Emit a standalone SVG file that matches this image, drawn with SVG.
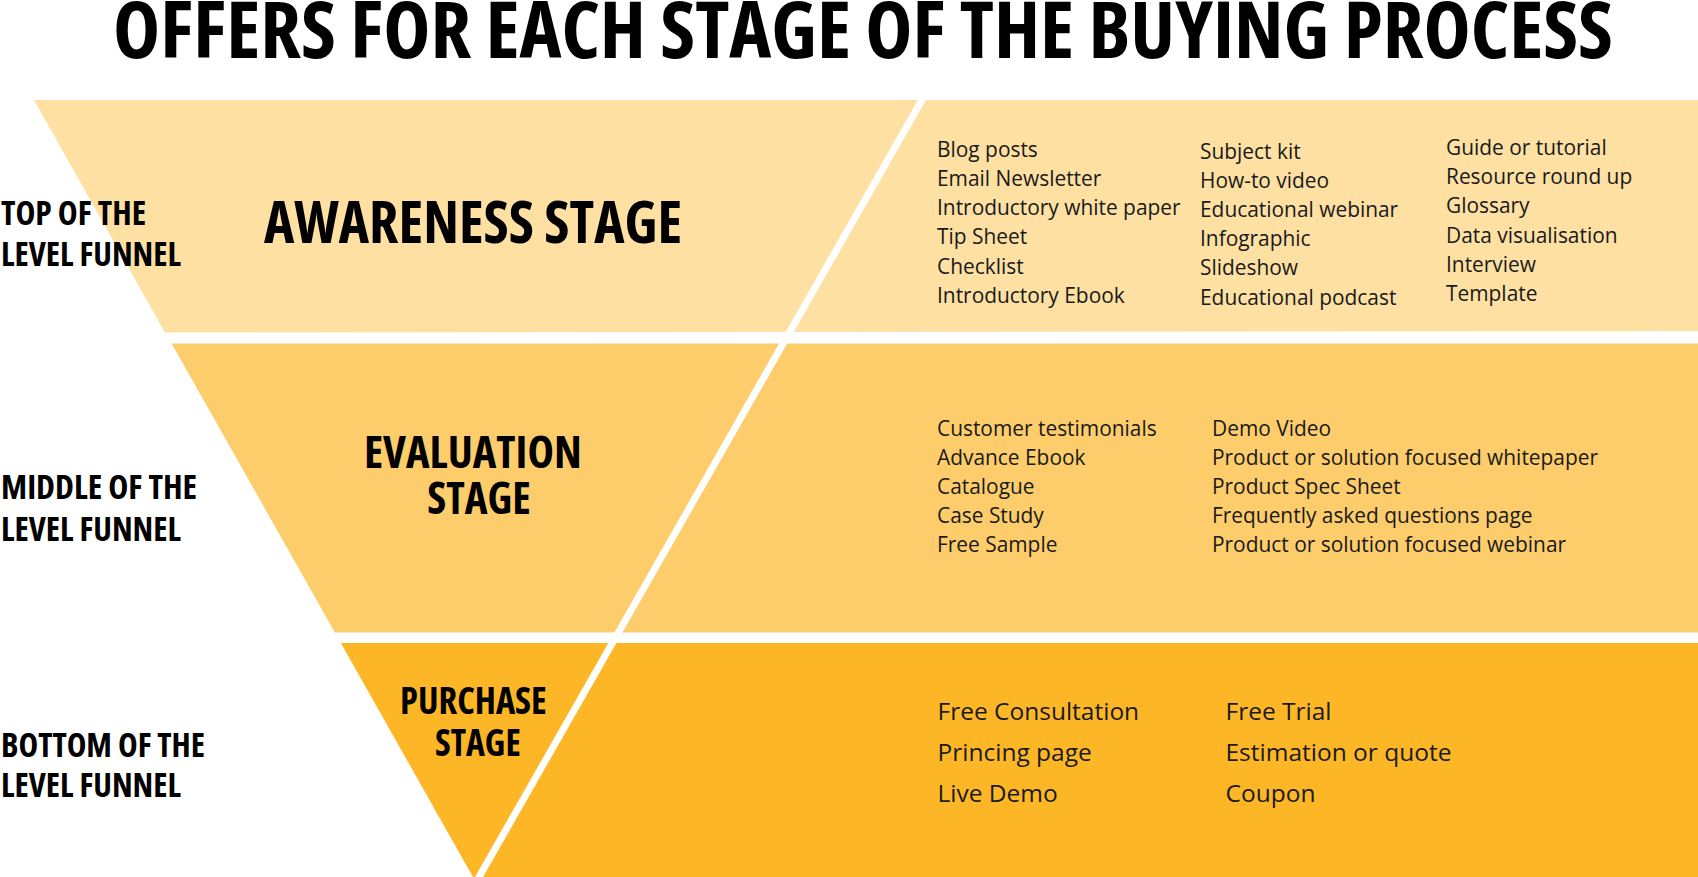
<svg xmlns="http://www.w3.org/2000/svg" width="1698" height="877" viewBox="0 0 1698 877">
<style>
.hd{font-family:"Open Sans","Liberation Sans",sans-serif;font-weight:700;font-stretch:condensed;fill:#000}
.it{font-family:"Open Sans","Liberation Sans",sans-serif;font-weight:400;font-size:20.9px;fill:#1a1a1a}
.itl{font-family:"Open Sans","Liberation Sans",sans-serif;font-weight:400;font-size:24.5px;fill:#1a1a1a}
.lab{font-size:33px}
</style>
<rect width="1698" height="877" fill="#ffffff"/>
<text class="hd" x="113" y="58" font-size="78" textLength="1500" lengthAdjust="spacingAndGlyphs">OFFERS FOR EACH STAGE OF THE BUYING PROCESS</text>

<g id="awareness">
<polygon points="34,100 1698,100 1698,331 165,332.5" fill="#FEE0A3"/>
<text class="hd" x="264" y="243.3" font-size="58.4" textLength="418" lengthAdjust="spacingAndGlyphs">AWARENESS STAGE</text>
<g class="it">
<text x="937" y="156.7">Blog posts</text>
<text x="937" y="185.9">Email Newsletter</text>
<text x="937" y="215.1">Introductory white paper</text>
<text x="937" y="244.3">Tip Sheet</text>
<text x="937" y="273.5">Checklist</text>
<text x="937" y="302.7">Introductory Ebook</text>
<text x="1200" y="159">Subject kit</text>
<text x="1200" y="188.1">How-to video</text>
<text x="1200" y="217.2">Educational webinar</text>
<text x="1200" y="246.3">Infographic</text>
<text x="1200" y="275.4">Slideshow</text>
<text x="1200" y="304.5">Educational podcast</text>
<text x="1446" y="154.6">Guide or tutorial</text>
<text x="1446" y="183.9">Resource round up</text>
<text x="1446" y="213.2">Glossary</text>
<text x="1446" y="242.5">Data visualisation</text>
<text x="1446" y="271.8">Interview</text>
<text x="1446" y="301.1">Template</text>
</g>
</g>

<g id="evaluation">
<polygon points="171.6,343.5 1698,343.5 1698,632.5 334.9,632.5" fill="#FECD6B"/>
<text class="hd" x="364" y="467.5" font-size="44.4" textLength="217.7" lengthAdjust="spacingAndGlyphs">EVALUATION</text>
<text class="hd" x="427.3" y="514" font-size="44.4" textLength="103.4" lengthAdjust="spacingAndGlyphs">STAGE</text>
<g class="it">
<text x="937" y="435.5">Customer testimonials</text>
<text x="937" y="464.7">Advance Ebook</text>
<text x="937" y="493.9">Catalogue</text>
<text x="937" y="523.1">Case Study</text>
<text x="937" y="552.3">Free Sample</text>
<text x="1212" y="435.5">Demo Video</text>
<text x="1212" y="464.7">Product or solution focused whitepaper</text>
<text x="1212" y="493.9">Product Spec Sheet</text>
<text x="1212" y="523.1">Frequently asked questions page</text>
<text x="1212" y="552.3">Product or solution focused webinar</text>
</g>
</g>

<g id="purchase">
<polygon points="340.8,643 1698,643 1698,877 473,877" fill="#FDB726"/>
<text class="hd" x="400" y="714" font-size="37.4" textLength="146.7" lengthAdjust="spacingAndGlyphs">PURCHASE</text>
<text class="hd" x="435" y="755.5" font-size="37.4" textLength="85.7" lengthAdjust="spacingAndGlyphs">STAGE</text>
<g class="itl">
<text x="937.5" y="720">Free Consultation</text>
<text x="937.5" y="761.4">Princing page</text>
<text x="937.5" y="802.4">Live Demo</text>
<text x="1225.5" y="720">Free Trial</text>
<text x="1225.5" y="761.4">Estimation or quote</text>
<text x="1225.5" y="802.4">Coupon</text>
</g>
</g>

<g id="connectors">
<line x1="923.7" y1="97" x2="477.3" y2="880" stroke="#ffffff" stroke-width="7"/>
</g>

<g id="level-labels">
<text class="hd lab" x="1" y="224.5" textLength="145" lengthAdjust="spacingAndGlyphs">TOP OF THE</text>
<text class="hd lab" x="1" y="265.5" textLength="180" lengthAdjust="spacingAndGlyphs">LEVEL FUNNEL</text>
<text class="hd lab" x="1" y="499" textLength="196" lengthAdjust="spacingAndGlyphs">MIDDLE OF THE</text>
<text class="hd lab" x="1" y="540.5" textLength="180" lengthAdjust="spacingAndGlyphs">LEVEL FUNNEL</text>
<text class="hd lab" x="1" y="756.5" textLength="204" lengthAdjust="spacingAndGlyphs">BOTTOM OF THE</text>
<text class="hd lab" x="1" y="796.5" textLength="180" lengthAdjust="spacingAndGlyphs">LEVEL FUNNEL</text>
</g>
</svg>
